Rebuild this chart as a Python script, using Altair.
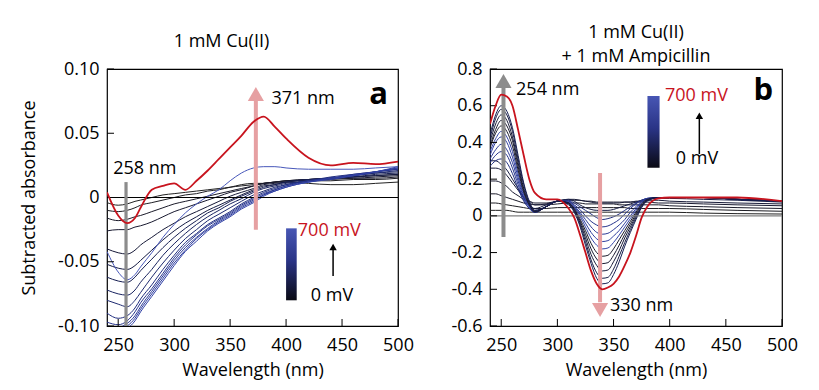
import altair as alt
import pandas as pd

FONT = "Open Sans"
X_TICKS = [250, 300, 350, 400, 450, 500]
A_YTICKS = [-0.10, -0.05, 0.0, 0.05, 0.10]
B_YTICKS = [-0.6, -0.4, -0.2, 0.0, 0.2, 0.4, 0.6, 0.8]

# ---------------- panel a data ----------------
WL_A = [240, 250, 258, 265, 270, 280, 290, 300, 310, 320, 330, 340, 350, 360, 371, 380, 390, 400, 420, 440, 460, 480, 500]
A_K1 = [-0.004, -0.006, -0.005, -0.003, -0.002, 0.000, 0.002, 0.003, 0.004, 0.005, 0.006, 0.007, 0.008, 0.010, 0.011, 0.011, 0.012, 0.012, 0.011, 0.010, 0.010, 0.011, 0.012]
A_K2 = [-0.010, -0.011, -0.010, -0.008, -0.006, -0.004, -0.002, 0.000, 0.002, 0.003, 0.005, 0.006, 0.008, 0.009, 0.010, 0.011, 0.012, 0.013, 0.013, 0.013, 0.014, 0.014, 0.015]
A_K3 = [-0.016, -0.018, -0.017, -0.015, -0.014, -0.011, -0.008, -0.005, -0.003, -0.001, 0.001, 0.003, 0.005, 0.007, 0.009, 0.011, 0.012, 0.013, 0.014, 0.014, 0.015, 0.015, 0.016]
A_K4 = [-0.026, -0.025, -0.025, -0.023, -0.022, -0.019, -0.015, -0.011, -0.008, -0.005, -0.002, 0.001, 0.004, 0.006, 0.009, 0.011, 0.012, 0.013, 0.014, 0.015, 0.015, 0.016, 0.017]
A_K5 = [-0.040, -0.043, -0.044, -0.041, -0.037, -0.031, -0.025, -0.020, -0.015, -0.011, -0.007, -0.003, 0.001, 0.004, 0.007, 0.010, 0.011, 0.012, 0.014, 0.015, 0.016, 0.017, 0.018]
A_K6 = [-0.052, -0.055, -0.056, -0.053, -0.049, -0.041, -0.033, -0.026, -0.020, -0.015, -0.010, -0.006, -0.002, 0.002, 0.006, 0.009, 0.010, 0.012, 0.014, 0.015, 0.016, 0.017, 0.018]
A_K7 = [-0.062, -0.065, -0.066, -0.062, -0.057, -0.048, -0.039, -0.031, -0.024, -0.018, -0.012, -0.008, -0.003, 0.001, 0.005, 0.008, 0.010, 0.012, 0.014, 0.015, 0.016, 0.018, 0.019]
A_K8 = [-0.072, -0.075, -0.076, -0.072, -0.066, -0.056, -0.045, -0.036, -0.028, -0.021, -0.015, -0.010, -0.005, -0.001, 0.004, 0.007, 0.009, 0.011, 0.013, 0.015, 0.017, 0.019, 0.020]
A_K9 = [-0.080, -0.083, -0.085, -0.080, -0.074, -0.062, -0.051, -0.041, -0.032, -0.025, -0.018, -0.013, -0.008, -0.003, 0.002, 0.005, 0.008, 0.010, 0.013, 0.015, 0.017, 0.019, 0.021]
A_B1 = [-0.090, -0.094, -0.092, -0.086, -0.079, -0.068, -0.056, -0.045, -0.035, -0.028, -0.021, -0.016, -0.011, -0.005, 0.000, 0.004, 0.007, 0.010, 0.013, 0.016, 0.018, 0.020, 0.022]
A_B2 = [-0.097, -0.099, -0.096, -0.089, -0.082, -0.071, -0.059, -0.047, -0.037, -0.029, -0.022, -0.017, -0.012, -0.006, -0.001, 0.003, 0.006, 0.009, 0.013, 0.015, 0.018, 0.020, 0.022]
A_B3 = [-0.100, -0.101, -0.098, -0.092, -0.085, -0.073, -0.061, -0.049, -0.039, -0.031, -0.024, -0.018, -0.013, -0.007, -0.002, 0.002, 0.006, 0.009, 0.012, 0.015, 0.017, 0.020, 0.023]
A_B4 = [-0.103, -0.103, -0.100, -0.094, -0.087, -0.075, -0.063, -0.051, -0.041, -0.032, -0.025, -0.019, -0.014, -0.008, -0.003, 0.002, 0.005, 0.008, 0.012, 0.015, 0.017, 0.020, 0.023]
A_B5 = [-0.105, -0.105, -0.102, -0.096, -0.089, -0.077, -0.065, -0.053, -0.042, -0.034, -0.026, -0.020, -0.015, -0.009, -0.004, 0.001, 0.005, 0.008, 0.012, 0.014, 0.017, 0.020, 0.024]
A_T = [-0.042, -0.058, -0.064, -0.060, -0.054, -0.043, -0.031, -0.021, -0.012, -0.005, 0.001, 0.006, 0.013, 0.019, 0.023, 0.024, 0.024, 0.023, 0.022, 0.022, 0.022, 0.023, 0.024]
A_R = [0.004, -0.014, -0.020, -0.016, -0.008, 0.006, 0.009, 0.011, 0.006, 0.013, 0.021, 0.030, 0.039, 0.048, 0.059, 0.063, 0.055, 0.046, 0.031, 0.025, 0.027, 0.026, 0.028]

A_CURVES = [("k1", A_K1), ("k2", A_K2), ("k3", A_K3), ("k4", A_K4), ("k5", A_K5), ("k6", A_K6),
            ("k7", A_K7), ("k8", A_K8), ("k9", A_K9), ("b1", A_B1), ("b2", A_B2), ("b3", A_B3),
            ("b4", A_B4), ("b5", A_B5), ("t", A_T)]
A_COLORS = ["#222222", "#1e1e24", "#1b1b2a", "#191a30", "#171a38", "#161c44", "#171f52", "#1a2460",
            "#1e2a70", "#222f80", "#26348c", "#2a3996", "#2e3d9e", "#3242a6", "#4757ba"]

# ---------------- panel b data ----------------
WL_B = [240, 245, 250, 255, 260, 265, 270, 275, 280, 290, 300, 310, 315, 320, 325, 330, 335, 340, 345, 350, 355, 360, 365, 370, 375, 380, 390, 400, 430, 460, 500]
B_G1 = [0.03, 0.03, 0.03, 0.03, 0.025, 0.02, 0.02, 0.02, 0.02, 0.02, 0.02, 0.02, 0.02, 0.02, 0.02, 0.02, 0.02, 0.02, 0.02, 0.02, 0.02, 0.02, 0.02, 0.02, 0.02, 0.02, 0.02, 0.02, 0.015, 0.012, 0.01]
B_G2 = [0.07, 0.07, 0.065, 0.06, 0.055, 0.05, 0.045, 0.04, 0.04, 0.04, 0.045, 0.045, 0.045, 0.045, 0.045, 0.045, 0.045, 0.045, 0.045, 0.045, 0.045, 0.045, 0.04, 0.04, 0.04, 0.04, 0.04, 0.04, 0.035, 0.03, 0.025]
B_K3 = [0.12, 0.12, 0.11, 0.10, 0.09, 0.08, 0.07, 0.065, 0.06, 0.06, 0.065, 0.07, 0.07, 0.07, 0.065, 0.065, 0.065, 0.065, 0.065, 0.065, 0.06, 0.06, 0.06, 0.06, 0.06, 0.06, 0.06, 0.055, 0.05, 0.045, 0.04]
B_K4 = [0.19, 0.19, 0.18, 0.16, 0.13, 0.11, 0.09, 0.08, 0.07, 0.07, 0.08, 0.085, 0.085, 0.085, 0.08, 0.08, 0.075, 0.075, 0.075, 0.075, 0.075, 0.075, 0.075, 0.075, 0.075, 0.075, 0.07, 0.07, 0.065, 0.06, 0.055]
B_K5 = [0.26, 0.26, 0.25, 0.22, 0.18, 0.14, 0.10, 0.08, 0.06, 0.065, 0.08, 0.09, 0.09, 0.085, 0.08, 0.075, 0.07, 0.07, 0.07, 0.07, 0.07, 0.075, 0.075, 0.08, 0.08, 0.085, 0.085, 0.08, 0.075, 0.07, 0.065]
B_K6 = [0.30, 0.30, 0.28, 0.25, 0.20, 0.15, 0.10, 0.06, 0.04, 0.06, 0.08, 0.09, 0.08, 0.06, 0.045, 0.035, 0.03, 0.03, 0.03, 0.035, 0.045, 0.055, 0.065, 0.075, 0.085, 0.09, 0.095, 0.095, 0.09, 0.085, 0.075]
B_B1 = [0.27, 0.30, 0.31, 0.29, 0.23, 0.15, 0.08, 0.04, 0.02, 0.05, 0.08, 0.085, 0.07, 0.05, 0.03, 0.01, -0.01, -0.02, -0.015, -0.005, 0.01, 0.03, 0.05, 0.07, 0.085, 0.095, 0.10, 0.10, 0.10, 0.09, 0.08]
B_B2 = [0.29, 0.33, 0.35, 0.33, 0.26, 0.17, 0.09, 0.04, 0.02, 0.05, 0.08, 0.08, 0.06, 0.035, 0.00, -0.03, -0.05, -0.06, -0.055, -0.04, -0.02, 0.01, 0.04, 0.065, 0.085, 0.095, 0.10, 0.10, 0.10, 0.09, 0.08]
B_B3 = [0.31, 0.36, 0.39, 0.36, 0.29, 0.19, 0.10, 0.05, 0.02, 0.05, 0.08, 0.08, 0.055, 0.02, -0.02, -0.06, -0.09, -0.10, -0.095, -0.075, -0.05, -0.02, 0.02, 0.05, 0.08, 0.095, 0.10, 0.10, 0.10, 0.09, 0.08]
B_B4 = [0.33, 0.40, 0.43, 0.40, 0.32, 0.21, 0.11, 0.05, 0.02, 0.05, 0.08, 0.075, 0.05, 0.01, -0.04, -0.09, -0.125, -0.14, -0.135, -0.11, -0.08, -0.04, 0.00, 0.04, 0.075, 0.09, 0.10, 0.10, 0.10, 0.09, 0.08]
B_B5 = [0.35, 0.42, 0.46, 0.43, 0.35, 0.23, 0.12, 0.05, 0.02, 0.05, 0.08, 0.075, 0.045, 0.00, -0.06, -0.12, -0.16, -0.18, -0.175, -0.145, -0.105, -0.06, -0.015, 0.03, 0.07, 0.09, 0.10, 0.10, 0.10, 0.09, 0.08]
B_B6 = [0.37, 0.45, 0.49, 0.46, 0.38, 0.25, 0.13, 0.06, 0.02, 0.05, 0.08, 0.07, 0.04, -0.015, -0.08, -0.15, -0.20, -0.22, -0.215, -0.18, -0.13, -0.08, -0.03, 0.02, 0.065, 0.09, 0.10, 0.10, 0.10, 0.09, 0.08]
B_B7 = [0.38, 0.47, 0.52, 0.49, 0.41, 0.27, 0.14, 0.06, 0.025, 0.05, 0.08, 0.07, 0.035, -0.025, -0.10, -0.18, -0.235, -0.26, -0.255, -0.215, -0.16, -0.10, -0.045, 0.01, 0.06, 0.085, 0.10, 0.10, 0.10, 0.09, 0.08]
B_B8 = [0.40, 0.50, 0.55, 0.52, 0.43, 0.29, 0.15, 0.07, 0.025, 0.05, 0.08, 0.07, 0.03, -0.035, -0.12, -0.21, -0.27, -0.30, -0.295, -0.25, -0.19, -0.12, -0.06, 0.00, 0.055, 0.085, 0.10, 0.10, 0.10, 0.09, 0.08]
B_B9 = [0.42, 0.53, 0.58, 0.55, 0.46, 0.31, 0.17, 0.07, 0.03, 0.05, 0.08, 0.065, 0.025, -0.045, -0.14, -0.24, -0.31, -0.34, -0.335, -0.29, -0.22, -0.145, -0.075, -0.01, 0.05, 0.085, 0.10, 0.10, 0.10, 0.09, 0.08]
B_B10 = [0.44, 0.55, 0.60, 0.57, 0.48, 0.33, 0.18, 0.08, 0.03, 0.05, 0.08, 0.06, 0.02, -0.055, -0.16, -0.26, -0.34, -0.37, -0.365, -0.32, -0.25, -0.165, -0.09, -0.02, 0.045, 0.08, 0.10, 0.10, 0.10, 0.09, 0.08]
B_R = [0.50, 0.60, 0.66, 0.65, 0.60, 0.47, 0.33, 0.20, 0.125, 0.09, 0.09, 0.04, -0.01, -0.10, -0.20, -0.30, -0.37, -0.40, -0.39, -0.37, -0.33, -0.27, -0.20, -0.11, -0.01, 0.05, 0.095, 0.10, 0.10, 0.10, 0.08]

B_CURVES = [("g1", B_G1), ("g2", B_G2), ("k3", B_K3), ("k4", B_K4), ("k5", B_K5), ("k6", B_K6),
            ("b1", B_B1), ("b2", B_B2), ("b3", B_B3), ("b4", B_B4), ("b5", B_B5), ("b6", B_B6),
            ("b7", B_B7), ("b8", B_B8), ("b9", B_B9), ("b10", B_B10)]
B_COLORS = ["#9a9a9a", "#7c7c7c", "#3a3a3a", "#202028", "#171730", "#141840", "#161c50", "#1a2260",
            "#1e286c", "#222e78", "#263484", "#2a3a90", "#30409a", "#3646a4", "#3c4cac", "#4454b6"]

RED = "#c8141e"
PINK = "#e6a0a2"
GRAY = "#8c8c8c"


def long_df(wl, curves):
    rows = []
    for i, (name, vals) in enumerate(curves):
        for w, v in zip(wl, vals):
            rows.append({"curve": name, "idx": i, "wl": w, "val": v})
    return pd.DataFrame(rows)


def ylabel_expr(dec):
    return (f"datum.value == 0 ? '0' : (datum.value < 0 ? '-' + format(-datum.value, '.{dec}f') "
            f": format(datum.value, '.{dec}f'))")


def make_panel(wl, curves, colors, red_vals, ydom, yticks, dec, ytitle, zero_color, ann, title):
    xs = alt.Scale(domain=[240, 500], nice=False, zero=False)
    ys = alt.Scale(domain=ydom, nice=False, zero=False)
    xax = alt.Axis(values=X_TICKS, title="Wavelength (nm)", ticks=False, domain=False, grid=False,
                   labelPadding=10, titlePadding=7, labelFont=FONT, labelFontSize=18,
                   titleFont=FONT, titleFontSize=18, titleFontWeight="normal",
                   labelColor="black", titleColor="black", labelFlush=False, labelOverlap=False)
    yax = alt.Axis(values=yticks, title=ytitle if ytitle else "", ticks=False, domain=False, grid=False,
                   labelPadding=8, titlePadding=19, labelFont=FONT, labelFontSize=18,
                   titleFont=FONT, titleFontSize=18, titleFontWeight="normal",
                   labelColor="black", titleColor="black", labelFlush=False, labelOverlap=False,
                   labelExpr=ylabel_expr(dec))
    X = lambda f="wl": alt.X(f"{f}:Q", scale=xs, axis=xax)
    Y = lambda f="val": alt.Y(f"{f}:Q", scale=ys, axis=yax)

    df = long_df(wl, curves)
    names = [c[0] for c in curves]
    lines = alt.Chart(df).mark_line(clip=True, strokeWidth=1.0, interpolate="monotone").encode(
        x=X(), y=Y(),
        color=alt.Color("curve:N", scale=alt.Scale(domain=names, range=colors), legend=None),
        order="idx:Q",
    )
    red = alt.Chart(pd.DataFrame({"wl": wl, "val": red_vals})).mark_line(
        clip=True, strokeWidth=1.8, color=RED, interpolate="monotone").encode(x=X(), y=Y())

    zero = alt.Chart(pd.DataFrame({"val": [0.0]})).mark_rule(color=zero_color, strokeWidth=1.1).encode(y=Y())

    # inward ticks
    xt = alt.Chart(pd.DataFrame({"wl": X_TICKS})).mark_rule(color="black", strokeWidth=1).encode(
        x=X(), y=alt.value(257), y2=alt.value(250))
    yt = alt.Chart(pd.DataFrame({"val": yticks})).mark_rule(color="black", strokeWidth=1).encode(
        y=Y(), x=alt.value(0), x2=alt.value(7))

    layers = [zero, xt, yt]
    for (x0, y0, y1, col, w) in ann["shafts"]:
        layers.append(alt.Chart(pd.DataFrame({"wl": [x0], "val": [y0], "val2": [y1]})).mark_rule(
            color=col, strokeWidth=w).encode(x=X(), y=Y(), y2="val2:Q"))
    for (x0, y0, shape, col, size) in ann["heads"]:
        layers.append(alt.Chart(pd.DataFrame({"wl": [x0], "val": [y0]})).mark_point(
            shape=shape, filled=True, size=size, color=col, opacity=1, strokeWidth=0).encode(x=X(), y=Y()))
    cb = ann["cbar"]
    grad = alt.LinearGradient(gradient="linear",
                              stops=[alt.GradientStop(color="#0a0a14", offset=0),
                                     alt.GradientStop(color="#2a3486", offset=0.55),
                                     alt.GradientStop(color="#4756b4", offset=1)],
                              x1=0, x2=0, y1=1, y2=0)
    layers.append(alt.Chart(pd.DataFrame({"wl": [cb[0]], "wl2": [cb[1]], "val": [cb[2]], "val2": [cb[3]]}))
                  .mark_rect(color=grad).encode(x=X(), x2="wl2:Q", y=Y(), y2="val2:Q"))
    for (x0, y0, txt, col, align, size, weight) in ann["texts"]:
        layers.append(alt.Chart(pd.DataFrame({"wl": [x0], "val": [y0], "t": [txt]})).mark_text(
            align=align, baseline="middle", font=FONT, fontSize=size, fontWeight=weight, color=col)
            .encode(x=X(), y=Y(), text="t:N"))

    ch = alt.layer(lines, *layers, red).properties(width=ann["w"], height=257, title=title)
    return ch


ANN_A = {
    "w": 291,
    "shafts": [(257, -0.1, 0.012, GRAY, 3.2), (373, -0.025, 0.078, PINK, 4), (442, -0.061, -0.040, "black", 1.5)],
    "heads": [(373, 0.0805, "triangle-up", PINK, 260), (442, -0.0385, "triangle-up", "black", 55)],
    "cbar": (400, 409.5, -0.080, -0.024),
    "texts": [(245.5, 0.022, "258 nm", "black", "left", 18, "normal"),
              (387, 0.0767, "371 nm", "black", "left", 18, "normal"),
              (491, 0.080, "a", "black", "right", 31, "bold"),
              (410.5, -0.026, "700 mV", RED, "left", 18, "normal"),
              (441, -0.0766, "0 mV", "black", "center", 18, "normal")],
}
ANN_B = {
    "w": 292,
    "shafts": [(252, -0.115, 0.70, GRAY, 4), (338, 0.233, -0.47, PINK, 4), (426.4, 0.337, 0.53, "black", 1.5)],
    "heads": [(252, 0.735, "triangle-up", GRAY, 260), (338, -0.513, "triangle-down", PINK, 260),
              (426.4, 0.545, "triangle-up", "black", 55)],
    "cbar": (380.2, 391, 0.262, 0.653),
    "texts": [(263.2, 0.684, "254 nm", "black", "left", 18, "normal"),
              (492, 0.68, "b", "black", "right", 31, "bold"),
              (395.8, 0.653, "700 mV", RED, "left", 18, "normal"),
              (424.3, 0.308, "0 mV", "black", "center", 18, "normal"),
              (346.8, -0.49, "330 nm", "black", "left", 18, "normal")],
}

title_a = alt.TitleParams("1 mM Cu(II)", font=FONT, fontSize=18, fontWeight="normal", color="black",
                          offset=18, dx=-31, dy=9, anchor="middle")
title_b = alt.TitleParams(["1 mM Cu(II)", "+ 1 mM Ampicillin"], font=FONT, fontSize=18, fontWeight="normal",
                          color="black", offset=3, dy=9, lineHeight=24, anchor="middle")

pa = make_panel(WL_A, A_CURVES, A_COLORS, A_R, [-0.1, 0.1], A_YTICKS, 2, "Subtracted absorbance",
                "black", ANN_A, title_a)
pb = make_panel(WL_B, B_CURVES, B_COLORS, B_R, [-0.6, 0.8], B_YTICKS, 1, None, "#808080", ANN_B, title_b)

chart = alt.hconcat(pa, pb, spacing=92, bounds="flush").properties(
    padding={"left": 12, "top": 15, "right": 5, "bottom": 5}
).configure(background="white").configure_view(stroke="black", strokeWidth=1.2)

chart.save("out.html", embed_options={"renderer": "svg", "actions": False})
